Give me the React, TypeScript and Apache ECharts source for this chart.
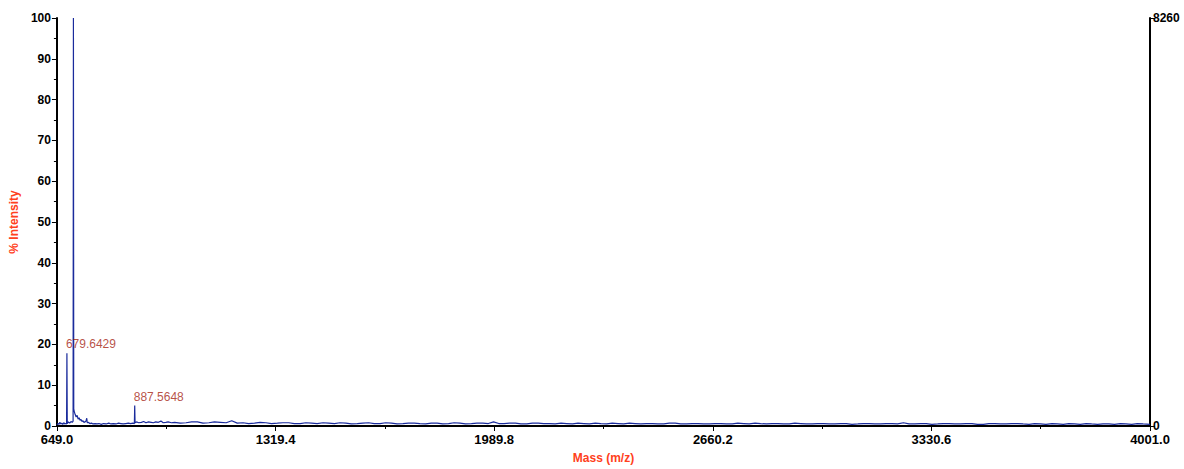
import React, { useEffect, useRef } from "react";
import * as echarts from "echarts";

const massStart = 649.0;
const massEnd = 4001.0;
const massTickStep = 670.4;
const intensityMax = 100;
const intensityStep = 10;
const countsMax = 8260;

const xAxisTitle = "Mass (m/z)";
const yAxisTitle = "% Intensity";

const peakLabels: [number, number, string][] = [
  [679.6429, 17.8, "679.6429"],
  [887.5648, 5.0, "887.5648"],
];

const spectrum: [number, number][] = [
  [649, 0.3], [652, 0.6], [655, 0.4], [658, 0.9], [661, 0.5], [664, 0.7], [667, 0.4], [670, 0.8],
  [673, 0.5], [676, 0.6], [678.6, 0.5], [679.64, 17.8], [680.7, 0.6], [684, 1.0], [688, 0.7],
  [692, 1.1], [696, 0.9], [698.6, 1.2], [699.6, 100], [700.6, 4.2], [702, 3.6], [705, 2.8],
  [708, 2.2], [711, 2.6], [714, 1.7], [717, 2.0], [720, 1.4], [723, 1.6], [726, 1.1], [729, 1.3],
  [732, 0.9], [735, 1.0], [738, 1.2], [740.5, 1.9], [742, 0.8], [746, 0.9], [750, 0.6], [755, 0.7],
  [760, 0.5], [766, 0.6], [772, 0.5], [778, 0.6], [785, 0.4], [792, 0.6], [800, 0.5], [808, 0.7],
  [815, 0.5], [822, 0.6], [830, 0.5], [838, 0.7], [845, 0.6], [852, 0.5], [860, 0.6], [868, 0.7],
  [875, 0.6], [882, 0.7], [886.5, 0.6], [887.56, 5.0], [888.6, 0.8], [893, 1.0], [900, 0.8],
  [908, 0.9], [915, 1.1], [922, 0.8], [930, 1.0], [938, 0.9], [945, 0.8], [952, 1.0], [960, 0.9],
  [968, 1.2], [975, 0.8], [983, 0.9], [990, 1.0], [1000, 0.8], [1010, 0.9], [1027, 0.7],
  [1045, 0.8], [1062, 1.0], [1080, 1.0], [1097, 0.7], [1115, 0.8], [1132, 1.0], [1150, 0.9],
  [1168, 0.8], [1185, 1.3], [1202, 0.7], [1220, 0.8], [1237, 0.6], [1255, 0.7], [1272, 0.9],
  [1290, 0.8], [1307, 0.6], [1325, 0.7], [1342, 0.8], [1360, 0.8], [1377, 0.6], [1395, 0.6],
  [1412, 0.8], [1430, 0.7], [1447, 0.6], [1465, 0.8], [1482, 0.7], [1500, 0.6], [1517, 0.8],
  [1535, 0.7], [1552, 0.5], [1570, 0.6], [1587, 0.7], [1605, 0.8], [1622, 0.6], [1640, 0.6],
  [1657, 0.8], [1675, 0.7], [1692, 0.5], [1710, 0.6], [1727, 0.7], [1745, 0.7], [1762, 0.6],
  [1780, 0.5], [1797, 0.7], [1815, 0.7], [1832, 0.5], [1850, 0.6], [1867, 0.8], [1885, 0.7],
  [1902, 0.5], [1920, 0.6], [1937, 0.7], [1955, 0.7], [1972, 0.6], [1988, 1.0], [2004, 0.6],
  [2020, 0.6], [2037, 0.7], [2055, 0.7], [2072, 0.5], [2090, 0.5], [2107, 0.7], [2125, 0.7],
  [2142, 0.6], [2160, 0.6], [2177, 0.5], [2195, 0.7], [2212, 0.6], [2230, 0.5], [2247, 0.7],
  [2265, 0.6], [2282, 0.5], [2300, 0.7], [2317, 0.6], [2335, 0.5], [2352, 0.7], [2370, 0.6],
  [2387, 0.5], [2405, 0.7], [2422, 0.6], [2440, 0.5], [2457, 0.6], [2475, 0.6], [2492, 0.5],
  [2510, 0.5], [2527, 0.7], [2545, 0.7], [2562, 0.5], [2580, 0.5], [2597, 0.6], [2615, 0.6],
  [2632, 0.5], [2650, 0.5], [2667, 0.6], [2685, 0.6], [2702, 0.5], [2720, 0.5], [2737, 0.7],
  [2755, 0.6], [2772, 0.5], [2790, 0.7], [2807, 0.6], [2825, 0.5], [2842, 0.6], [2860, 0.6],
  [2877, 0.5], [2895, 0.5], [2912, 0.7], [2930, 0.6], [2947, 0.5], [2965, 0.5], [2982, 0.6],
  [3000, 0.6], [3017, 0.5], [3035, 0.5], [3052, 0.6], [3070, 0.6], [3087, 0.4], [3105, 0.5],
  [3122, 0.6], [3140, 0.6], [3157, 0.5], [3175, 0.5], [3192, 0.6], [3210, 0.6], [3227, 0.5],
  [3245, 0.8], [3262, 0.5], [3280, 0.5], [3297, 0.6], [3315, 0.6], [3332, 0.4], [3350, 0.5],
  [3367, 0.6], [3385, 0.6], [3402, 0.5], [3420, 0.5], [3437, 0.6], [3455, 0.6], [3472, 0.4],
  [3490, 0.4], [3507, 0.6], [3525, 0.6], [3542, 0.5], [3560, 0.5], [3577, 0.6], [3595, 0.6],
  [3612, 0.5], [3630, 0.4], [3647, 0.6], [3665, 0.5], [3682, 0.4], [3700, 0.6], [3717, 0.5],
  [3735, 0.4], [3752, 0.6], [3770, 0.5], [3787, 0.4], [3805, 0.6], [3822, 0.5], [3840, 0.4],
  [3857, 0.5], [3875, 0.5], [3892, 0.4], [3910, 0.6], [3927, 0.5], [3945, 0.4], [3962, 0.6],
  [3980, 0.5], [4001, 0.4],
];

const axisFont = "Arial, 'Liberation Sans', sans-serif";

export default function App() {
  const ref = useRef<HTMLDivElement>(null);

  useEffect(() => {
    if (!ref.current) return;
    const chart = echarts.init(ref.current, null, { renderer: "svg" });
    const shift = (m: number) => m - massStart;
    const labelStyle = {
      color: "#000",
      fontWeight: "bold" as const,
      fontSize: 12,
      fontFamily: axisFont,
    };
    chart.setOption({
      animation: false,
      backgroundColor: "#fff",
      grid: { left: 55, right: 34, top: 18, bottom: 40, containLabel: false },
      xAxis: {
        type: "value",
        min: 0,
        max: massEnd - massStart,
        interval: massTickStep,
        name: xAxisTitle,
        nameLocation: "middle",
        nameGap: 26,
        nameTextStyle: { color: "#ff4020", fontWeight: "bold", fontSize: 12, fontFamily: axisFont },
        axisLine: { show: true, onZero: false, lineStyle: { color: "#000", width: 2 } },
        axisTick: { show: true, inside: false, length: 5, lineStyle: { color: "#000", width: 1 } },
        minorTick: { show: true, splitNumber: 2, length: 3, lineStyle: { color: "#000", width: 1 } },
        axisLabel: {
          ...labelStyle,
          fontSize: 13,
          margin: 7,
          lineHeight: 13,
          formatter: (v: number) => (v + massStart).toFixed(1),
        },
        splitLine: { show: false },
      },
      yAxis: [
        {
          type: "value",
          min: 0,
          max: intensityMax,
          interval: intensityStep,
          name: yAxisTitle,
          nameLocation: "middle",
          nameGap: 34,
          nameRotate: 90,
          nameTextStyle: { color: "#ff4020", fontWeight: "bold", fontSize: 12, fontFamily: axisFont },
          axisLine: { show: true, lineStyle: { color: "#000", width: 2 } },
          axisTick: { show: true, inside: false, length: 5, lineStyle: { color: "#000", width: 1 } },
          minorTick: { show: true, splitNumber: 2, length: 3, lineStyle: { color: "#000", width: 1 } },
          axisLabel: { ...labelStyle, margin: 6, lineHeight: 10 },
          splitLine: { show: false },
        },
        {
          type: "value",
          position: "right",
          min: 0,
          max: countsMax,
          interval: countsMax,
          axisLine: { show: true, lineStyle: { color: "#000", width: 2 } },
          axisTick: { show: true, inside: false, length: 5, lineStyle: { color: "#000", width: 1 } },
          axisLabel: {
            ...labelStyle,
            lineHeight: 10,
            margin: 3,
            formatter: (v: number) => String(v),
          },
          splitLine: { show: false },
        },
      ],
      series: [
        {
          type: "line",
          data: spectrum.map(([m, i]) => [shift(m), i]),
          showSymbol: false,
          symbol: "none",
          lineStyle: { color: "#1a2b9c", width: 1.2 },
          itemStyle: { color: "#1a2b9c" },
          z: 2,
        },
        {
          type: "scatter",
          data: peakLabels.map(([m, i, t]) => ({ value: [shift(m), i], name: t })),
          symbolSize: 0,
          itemStyle: { color: "#a52412" },
          label: {
            show: true,
            position: "top",
            align: "left",
            distance: 3,
            offset: [-1, 0],
            formatter: (p: any) => p.name,
            color: "#a52412",
            fontSize: 12,
            fontFamily: axisFont,
          },
          z: 3,
        },
      ],
    });
    return () => chart.dispose();
  }, []);

  return (
    <div
      ref={ref}
      style={{ position: "fixed", left: 0, top: 0, width: 1184, height: 469 }}
    />
  );
}
